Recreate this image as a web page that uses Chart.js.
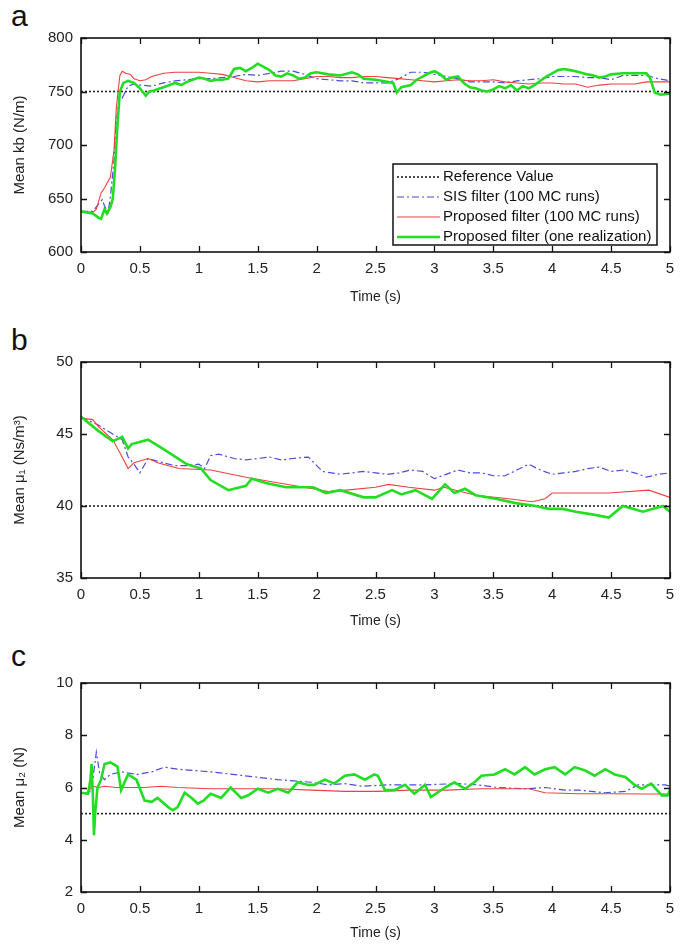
<!DOCTYPE html>
<html>
<head>
<meta charset="utf-8">
<script src="https://cdn.jsdelivr.net/npm/chart.js@4.4.1/dist/chart.umd.min.js"></script>
<style>
  body { margin: 0; background: #fff; width: 686px; height: 945px; position: relative; overflow: hidden; font-family: "Liberation Sans", Arial, sans-serif; }
  .panel { position: absolute; left: 0; width: 686px; }
  .letter { position: absolute; left: 11px; font-size: 30px; line-height: 30px; color: #111; }
</style>
</head>
<body>
<div class="letter" style="top:1px">a</div>
<div class="letter" style="top:325px">b</div>
<div class="letter" style="top:641px">c</div>
<div class="panel" style="top:0;height:310px"><canvas id="chartA" width="686" height="310"></canvas></div>
<div class="panel" style="top:315px;height:315px"><canvas id="chartB" width="686" height="315"></canvas></div>
<div class="panel" style="top:635px;height:310px"><canvas id="chartC" width="686" height="310"></canvas></div>
<script>
// legend labels
const seriesNames = ['Reference Value', 'SIS filter (100 MC runs)', 'Proposed filter (100 MC runs)', 'Proposed filter (one realization)'];
const timeRange = [0, 5];

// --- panel a : mean kb (N/m)
const kbRef = 750;
const kbSisT = [0,0.1,0.15,0.18,0.2,0.23,0.25,0.28,0.3,0.33,0.35,0.4,0.45,0.5,0.6,0.7,0.8,0.9,1.0,1.1,1.2,1.3,1.4,1.5,1.6,1.7,1.8,1.9,2.0,2.1,2.2,2.3,2.4,2.5,2.6,2.7,2.8,2.9,3.0,3.1,3.2,3.3,3.4,3.5,3.6,3.7,3.8,3.9,4.0,4.1,4.2,4.3,4.4,4.5,4.6,4.7,4.8,4.9,5.0];
const kbSisV = [638,638,645,649,643,637,652,685,722,748,744,755,757,756,755,758,760,761,762,762,763,764,766,765,767,769,769,766,762,761,760,760,758,758,758,762,768,768,766,764,762,759,759,759,758,760,761,762,764,764,764,763,763,761,765,765,765,762,760];
const kbMcT = [0,0.1,0.13,0.17,0.2,0.25,0.28,0.3,0.33,0.35,0.38,0.42,0.45,0.5,0.55,0.6,0.7,0.8,0.9,1.0,1.1,1.2,1.3,1.4,1.5,1.6,1.7,1.8,1.9,2.0,2.1,2.2,2.3,2.4,2.5,2.6,2.7,2.8,2.9,3.0,3.1,3.2,3.3,3.4,3.5,3.6,3.7,3.8,3.9,4.0,4.1,4.2,4.3,4.4,4.5,4.6,4.7,4.8,4.9,5.0];
const kbMcV = [638,637,640,655,660,670,695,735,765,769,767,766,762,760,761,764,767,768,768,768,767,766,763,760,759,760,760,760,762,764,764,763,763,764,764,763,762,761,760,759,760,761,760,760,761,759,758,757,758,758,757,757,754,756,757,757,757,759,759,759];
const kbOneT = [0,0.05,0.1,0.15,0.17,0.2,0.22,0.25,0.27,0.29,0.31,0.33,0.36,0.4,0.45,0.5,0.55,0.58,0.62,0.7,0.8,0.85,0.9,1.0,1.05,1.1,1.15,1.2,1.25,1.3,1.35,1.4,1.45,1.5,1.55,1.6,1.65,1.7,1.75,1.8,1.85,1.9,1.95,2.0,2.1,2.2,2.3,2.35,2.4,2.5,2.55,2.6,2.65,2.68,2.72,2.8,2.85,2.9,2.95,3.0,3.05,3.1,3.15,3.2,3.25,3.3,3.35,3.4,3.45,3.5,3.55,3.6,3.65,3.7,3.75,3.8,3.85,3.9,3.95,4.0,4.05,4.1,4.15,4.2,4.3,4.35,4.4,4.45,4.5,4.6,4.7,4.8,4.83,4.87,4.92,5.0];
const kbOneV = [638,637,636,632,631,640,636,642,650,680,720,750,758,760,758,753,746,750,751,754,758,756,759,763,762,760,761,761,762,771,772,769,772,776,773,770,765,764,767,765,762,763,767,768,766,765,768,766,762,761,760,759,758,749,754,756,761,764,767,769,766,761,763,764,758,754,753,751,750,752,755,753,756,751,755,753,756,760,764,767,770,771,770,769,766,765,763,764,766,767,767,767,763,749,747,748];

// --- panel b : mean mu1 (Ns/m^3)
const mu1Ref = 40;
const mu1SisT = [0,0.15,0.35,0.4,0.45,0.5,0.57,0.7,0.8,0.9,1.0,1.05,1.1,1.17,1.3,1.4,1.5,1.6,1.7,1.8,1.93,2.05,2.2,2.3,2.4,2.5,2.6,2.7,2.8,2.9,3.0,3.1,3.2,3.3,3.4,3.5,3.6,3.7,3.8,3.9,4.0,4.1,4.2,4.3,4.4,4.5,4.6,4.7,4.8,4.9,5.0];
const mu1SisV = [46.2,45.6,44.6,43.4,42.9,42.3,43.3,43.0,42.8,42.8,42.9,42.6,43.5,43.6,43.3,43.2,43.3,43.4,43.2,43.3,43.4,42.4,42.2,42.3,42.4,42.3,42.2,42.3,42.5,42.4,41.9,42.2,42.5,42.3,42.3,42.1,42.1,42.5,42.9,42.5,42.2,42.3,42.4,42.6,42.7,42.4,42.5,42.3,42.0,42.2,42.3];
const mu1McT = [0,0.1,0.15,0.27,0.33,0.4,0.45,0.57,0.65,0.83,1.1,1.4,1.68,1.97,2.1,2.25,2.5,2.61,2.78,3.0,3.08,3.35,3.63,3.83,3.94,4.0,4.2,4.48,4.82,5.0];
const mu1McV = [46.1,46.0,45.5,44.6,43.7,42.6,43.0,43.3,43.0,42.6,42.5,42.0,41.6,41.2,41.0,41.1,41.3,41.5,41.3,41.1,41.3,40.75,40.5,40.3,40.5,40.9,40.9,40.9,41.1,40.6];
const mu1OneT = [0,0.15,0.27,0.35,0.4,0.43,0.57,0.71,0.9,1.02,1.1,1.25,1.4,1.45,1.57,1.74,1.97,2.08,2.2,2.4,2.5,2.64,2.72,2.84,2.98,3.09,3.17,3.26,3.35,3.52,3.69,3.86,3.97,4.09,4.2,4.35,4.48,4.6,4.77,4.94,5.0];
const mu1OneV = [46.2,45.2,44.5,44.8,44.0,44.3,44.6,43.9,42.9,42.6,41.8,41.1,41.4,41.9,41.6,41.3,41.3,40.9,41.1,40.6,40.6,41.1,40.8,41.1,40.5,41.5,40.9,41.2,40.75,40.5,40.2,40.0,39.8,39.8,39.6,39.4,39.2,40.0,39.6,40.0,39.6];

// --- panel c : mean mu2 (N)
const mu2Ref = 5;
const mu2SisT = [0,0.07,0.1,0.13,0.16,0.2,0.25,0.34,0.48,0.6,0.71,0.82,1.1,1.39,1.67,1.96,2.1,2.24,2.38,2.6,2.9,3.2,3.37,3.54,3.77,3.94,4.11,4.22,4.45,4.62,4.73,4.96,5.0];
const mu2SisV = [5.8,5.75,6.3,7.35,6.5,6.3,6.5,6.6,6.5,6.6,6.78,6.7,6.6,6.45,6.3,6.2,6.1,6.15,6.05,6.1,6.1,6.15,6.1,6.0,5.95,6.0,5.9,5.9,5.8,5.85,6.1,6.1,6.05];
const mu2McT = [0,0.05,0.1,0.15,0.2,0.3,0.4,0.54,0.68,0.82,1.1,1.39,1.67,1.96,2.24,2.52,2.8,3.1,3.4,3.8,3.94,4.22,4.5,4.8,5.0];
const mu2McV = [5.76,5.8,6.05,6.0,6.05,6.0,6.0,6.0,6.05,6.0,5.95,5.95,5.95,5.9,5.85,5.85,5.9,5.9,5.95,5.95,5.8,5.76,5.76,5.75,5.75];
const mu2OneT = [0,0.06,0.08,0.09,0.1,0.11,0.12,0.14,0.17,0.2,0.25,0.31,0.34,0.4,0.47,0.54,0.6,0.65,0.74,0.78,0.82,0.88,0.94,0.99,1.04,1.1,1.19,1.27,1.36,1.42,1.5,1.59,1.67,1.76,1.84,1.93,1.98,2.07,2.15,2.24,2.32,2.41,2.49,2.52,2.58,2.66,2.75,2.83,2.92,2.97,3.09,3.17,3.26,3.34,3.4,3.51,3.6,3.68,3.77,3.85,3.94,4.02,4.11,4.19,4.28,4.36,4.45,4.53,4.62,4.7,4.76,4.84,4.93,4.98,5.0];
const mu2OneV = [5.8,5.76,6.3,6.9,5.8,4.17,5.0,6.0,6.3,6.9,6.96,6.8,5.9,6.5,6.3,5.5,5.45,5.6,5.25,5.13,5.25,5.8,5.6,5.38,5.5,5.76,5.6,6.0,5.6,5.7,5.95,5.8,5.95,5.8,6.2,6.1,6.1,6.3,6.15,6.45,6.5,6.3,6.5,6.45,5.9,5.9,6.1,5.76,6.1,5.63,6.0,6.2,5.95,6.2,6.45,6.5,6.7,6.5,6.78,6.5,6.7,6.78,6.5,6.78,6.65,6.45,6.7,6.5,6.4,6.1,5.95,6.15,5.7,5.7,5.9];

const colRef = '#222222', colSis = '#4b4bdc', colMc = '#ee4040', colOne = '#22dd22';
const tickFont = { family: '"Liberation Sans", Arial, sans-serif', size: 15 };
const titleFont = { family: '"Liberation Sans", Arial, sans-serif', size: 14 };
const yTitleFont = { family: '"Liberation Sans", Arial, sans-serif', size: 15 };

function pts(t, v) { return t.map((x, i) => ({ x: x, y: v[i] })); }

// frame with inward ticks on all four sides
const frameTicks = {
  id: 'frameTicks',
  afterDatasetsDraw(chart) {
    const { ctx, chartArea: a, scales: { x, y } } = chart;
    ctx.save();
    ctx.strokeStyle = '#111';
    ctx.lineWidth = 1.3;
    ctx.beginPath();
    x.ticks.forEach(t => {
      const px = Math.round(x.getPixelForValue(t.value)) + 0.5;
      ctx.moveTo(px, a.bottom); ctx.lineTo(px, a.bottom - 6);
      ctx.moveTo(px, a.top); ctx.lineTo(px, a.top + 6);
    });
    y.ticks.forEach(t => {
      const py = Math.round(y.getPixelForValue(t.value)) + 0.5;
      ctx.moveTo(a.left, py); ctx.lineTo(a.left + 6, py);
      ctx.moveTo(a.right, py); ctx.lineTo(a.right - 6, py);
    });
    ctx.stroke();
    ctx.lineWidth = 1.6;
    ctx.strokeRect(a.left, a.top, a.right - a.left, a.bottom - a.top);
    ctx.restore();
  }
};

// boxed legend in lower right of the plot (panel a only)
const boxLegend = {
  id: 'boxLegend',
  afterDraw(chart, args, opts) {
    if (!opts.show) return;
    const { ctx, chartArea: a } = chart;
    const w = 264, h = 81;
    const x0 = a.right - 13 - w, y0 = a.bottom - 7 - h;
    ctx.save();
    ctx.fillStyle = '#fff';
    ctx.fillRect(x0, y0, w, h);
    ctx.strokeStyle = '#111';
    ctx.lineWidth = 1.5;
    ctx.strokeRect(x0, y0, w, h);
    ctx.font = '15px "Liberation Sans", Arial, sans-serif';
    ctx.textBaseline = 'middle';
    chart.data.datasets.forEach((ds, i) => {
      const yy = y0 + 13 + i * 20;
      ctx.strokeStyle = ds.borderColor;
      ctx.lineWidth = ds.borderWidth;
      ctx.setLineDash(ds.borderDash || []);
      ctx.beginPath();
      ctx.moveTo(x0 + 4, yy); ctx.lineTo(x0 + 47, yy);
      ctx.stroke();
      ctx.setLineDash([]);
      ctx.fillStyle = '#111';
      ctx.fillText(ds.label, x0 + 50, yy);
    });
    ctx.restore();
  }
};

function makeChart(id, p) {
  const datasets = [
    { label: seriesNames[0], data: pts(timeRange, [p.ref, p.ref]), borderColor: colRef, borderWidth: 1.6, borderDash: [2, 2], order: 4 },
    { label: seriesNames[1], data: pts(p.sisT, p.sisV), borderColor: colSis, borderWidth: 1.2, borderDash: [7, 3, 2, 3], order: 3 },
    { label: seriesNames[2], data: pts(p.mcT, p.mcV), borderColor: colMc, borderWidth: 1.1, order: 2 },
    { label: seriesNames[3], data: pts(p.oneT, p.oneV), borderColor: colOne, borderWidth: 2.6, order: 1 }
  ];
  datasets.forEach(d => { d.pointRadius = 0; d.tension = 0; d.fill = false; });
  return new Chart(document.getElementById(id), {
    type: 'line',
    data: { datasets: datasets },
    options: {
      responsive: false,
      animation: false,
      devicePixelRatio: 1,
      layout: { padding: { left: 0, right: 16, top: p.top, bottom: 0 } },
      plugins: { legend: { display: false }, tooltip: { enabled: false }, boxLegend: { show: !!p.legend } },
      scales: {
        x: {
          type: 'linear', min: 0, max: 5,
          grid: { display: false, drawTicks: false }, border: { display: false },
          ticks: { stepSize: 0.5, padding: 8, color: '#222', font: tickFont, maxRotation: 0,
            callback: v => String(Math.round(v * 10) / 10) },
          title: { display: true, text: 'Time (s)', color: '#222', font: titleFont, padding: { top: 0, bottom: p.titlePad } },
          afterFit(s) { s.height = p.xh; }
        },
        y: {
          min: p.min, max: p.max,
          grid: { display: false, drawTicks: false }, border: { display: false },
          ticks: { stepSize: p.step, padding: 8, color: '#222', font: tickFont },
          title: { display: true, text: p.ylabel, color: '#222', font: yTitleFont, padding: { top: 11, bottom: 0 } },
          afterFit(s) { s.width = 81; }
        }
      }
    },
    plugins: [frameTicks, boxLegend]
  });
}

makeChart('chartA', { ref: kbRef, sisT: kbSisT, sisV: kbSisV, mcT: kbMcT, mcV: kbMcV, oneT: kbOneT, oneV: kbOneV,
  min: 600, max: 800, step: 50, ylabel: 'Mean kb (N/m)', top: 38, xh: 58, titlePad: 4, legend: true });
makeChart('chartB', { ref: mu1Ref, sisT: mu1SisT, sisV: mu1SisV, mcT: mu1McT, mcV: mu1McV, oneT: mu1OneT, oneV: mu1OneV,
  min: 35, max: 50, step: 5, ylabel: 'Mean \u03bc\u2081 (Ns/m\u00b3)', top: 47, xh: 52, titlePad: 0 });
makeChart('chartC', { ref: mu2Ref, sisT: mu2SisT, sisV: mu2SisV, mcT: mu2McT, mcV: mu2McV, oneT: mu2OneT, oneV: mu2OneV,
  min: 2, max: 10, step: 2, ylabel: 'Mean \u03bc\u2082 (N)', top: 48, xh: 53, titlePad: 3 });
</script>
</body>
</html>
